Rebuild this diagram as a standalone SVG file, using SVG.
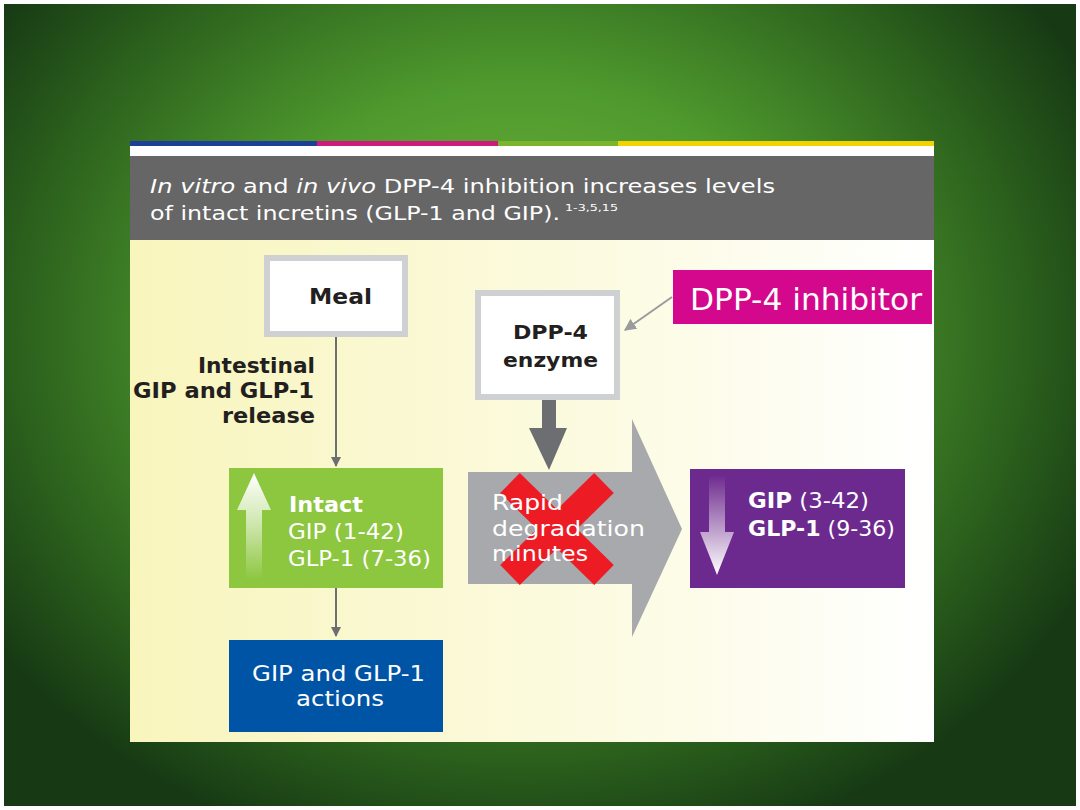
<svg xmlns="http://www.w3.org/2000/svg" width="1080" height="810" viewBox="0 0 1080 810">
<defs>
  <radialGradient id="bg" cx="520" cy="330" r="640" gradientUnits="userSpaceOnUse" gradientTransform="translate(520 330) scale(1 0.85) translate(-520 -330)">
    <stop offset="0" stop-color="#78b43c"/>
    <stop offset="0.45" stop-color="#4f9a2e"/>
    <stop offset="0.8" stop-color="#2a5e1c"/>
    <stop offset="1" stop-color="#173a14"/>
  </radialGradient>
  <linearGradient id="panel" x1="0" y1="0" x2="1" y2="0">
    <stop offset="0" stop-color="#f8f5bd"/>
    <stop offset="0.6" stop-color="#fcfbe2"/>
    <stop offset="1" stop-color="#ffffff"/>
  </linearGradient>
  <linearGradient id="upArrow" x1="0" y1="0" x2="0" y2="1">
    <stop offset="0" stop-color="#ffffff" stop-opacity="1"/>
    <stop offset="0.5" stop-color="#ffffff" stop-opacity="0.55"/>
    <stop offset="1" stop-color="#ffffff" stop-opacity="0"/>
  </linearGradient>
  <linearGradient id="downArrow" x1="0" y1="0" x2="0" y2="1">
    <stop offset="0" stop-color="#ffffff" stop-opacity="0"/>
    <stop offset="0.5" stop-color="#ffffff" stop-opacity="0.5"/>
    <stop offset="1" stop-color="#ffffff" stop-opacity="1"/>
  </linearGradient>
  <marker id="ah" viewBox="0 0 10 10" refX="9" refY="5" markerWidth="5" markerHeight="5" orient="auto" markerUnits="strokeWidth">
    <path d="M0,0 L10,5 L0,10 z" fill="#6d6e71"/>
  </marker>
  <marker id="ahl" viewBox="0 0 10 10" refX="9" refY="5" markerWidth="6" markerHeight="6" orient="auto" markerUnits="strokeWidth">
    <path d="M0,0 L10,5 L0,10 z" fill="#9a9b9e"/>
  </marker>
  <style>
    .t { font-family: "DejaVu Sans", "Liberation Sans", Arial, sans-serif; }
    .w { fill: #ffffff; }
    .k { fill: #231f20; }
    .b { font-weight: bold; }
    .conn { stroke: #6d6e71; stroke-width: 2; fill: none; }
    .box { fill: #ffffff; stroke: #cfd0d2; stroke-width: 6; }
  </style>
</defs>

<rect x="0" y="0" width="1080" height="810" fill="#ffffff"/>
<rect x="4" y="4" width="1072" height="802" fill="url(#bg)"/>

<!-- panel -->
<g id="panel">
  <rect x="130" y="141" width="804" height="601" fill="url(#panel)"/>
  <rect x="130" y="141" width="187" height="5" fill="#1d3f9a"/>
  <rect x="317" y="141" width="181" height="5" fill="#cc1a7f"/>
  <rect x="498" y="141" width="120" height="5" fill="#7ab52c"/>
  <rect x="618" y="141" width="316" height="5" fill="#f2d300"/>
  <rect x="130" y="146" width="804" height="10" fill="#ffffff"/>
  <rect x="130" y="156" width="804" height="84" fill="#666666"/>
  <text class="t w" x="150" y="193" font-size="20" textLength="625" lengthAdjust="spacingAndGlyphs"><tspan font-style="italic">In vitro</tspan> and <tspan font-style="italic">in vivo</tspan> DPP-4 inhibition increases levels</text>
  <text class="t w" x="150" y="220" font-size="20" textLength="410" lengthAdjust="spacingAndGlyphs">of intact incretins (GLP-1 and GIP).</text>
  <text class="t w" x="565" y="211" font-size="9.5" textLength="53" lengthAdjust="spacingAndGlyphs">1-3,5,15</text>
</g>

<!-- connectors -->
<g id="connectors">
  <line class="conn" x1="336" y1="336" x2="336" y2="466" marker-end="url(#ah)"/>
  <line class="conn" x1="336" y1="588" x2="336" y2="636" marker-end="url(#ah)"/>
  <line x1="672" y1="297" x2="625" y2="330" stroke="#9a9b9e" stroke-width="2" marker-end="url(#ahl)"/>
  <path d="M542,400 H556 V428 H567 L549,470 L529,428 H542 Z" fill="#6d6e71"/>
</g>

<g id="meal">
  <rect class="box" x="267" y="258" width="138" height="76"/>
  <text class="t k b" x="309" y="304" font-size="21" textLength="63" lengthAdjust="spacingAndGlyphs">Meal</text>
</g>

<g id="release-label">
  <text class="t k b" x="198" y="373" font-size="21" textLength="117" lengthAdjust="spacingAndGlyphs">Intestinal</text>
  <text class="t k b" x="133" y="398" font-size="21" textLength="181" lengthAdjust="spacingAndGlyphs">GIP and GLP-1</text>
  <text class="t k b" x="222" y="423" font-size="21" textLength="93" lengthAdjust="spacingAndGlyphs">release</text>
</g>

<g id="intact">
  <rect x="229" y="468" width="214" height="120" fill="#8dc63f"/>
  <path d="M246,580 V510 H237 L254,473 L271,510 H262 V580 Z" fill="url(#upArrow)"/>
  <text class="t w b" x="289" y="512" font-size="21" textLength="74" lengthAdjust="spacingAndGlyphs">Intact</text>
  <text class="t w" x="288" y="539" font-size="21" textLength="116" lengthAdjust="spacingAndGlyphs">GIP (1-42)</text>
  <text class="t w" x="288" y="566" font-size="21" textLength="143" lengthAdjust="spacingAndGlyphs">GLP-1 (7-36)</text>
</g>

<g id="actions">
  <rect x="229" y="640" width="214" height="92" fill="#0054a6"/>
  <text class="t w" x="252" y="681" font-size="21" textLength="173" lengthAdjust="spacingAndGlyphs">GIP and GLP-1</text>
  <text class="t w" x="296" y="706" font-size="21" textLength="88" lengthAdjust="spacingAndGlyphs">actions</text>
</g>

<g id="dpp4-enzyme">
  <rect class="box" x="478" y="293" width="139" height="104"/>
  <text class="t k b" x="513" y="339" font-size="20" textLength="75" lengthAdjust="spacingAndGlyphs">DPP-4</text>
  <text class="t k b" x="503" y="367" font-size="20" textLength="95" lengthAdjust="spacingAndGlyphs">enzyme</text>
</g>

<g id="dpp4-inhibitor">
  <rect x="673" y="270" width="259" height="54" fill="#d4088c"/>
  <text class="t w" x="690" y="310" font-size="30" textLength="232" lengthAdjust="spacingAndGlyphs">DPP-4 inhibitor</text>
</g>

<g id="degradation">
  <path d="M468,472 H632 V419 L682,529 L632,637 V584 H468 Z" fill="#a7a9ac"/>
  <line x1="510" y1="483" x2="604" y2="575" stroke="#ed1c24" stroke-width="28"/>
  <line x1="604" y1="483" x2="510" y2="575" stroke="#ed1c24" stroke-width="28"/>
  <text class="t w" x="492" y="510" font-size="21" textLength="71" lengthAdjust="spacingAndGlyphs">Rapid</text>
  <text class="t w" x="492" y="536" font-size="21" textLength="153" lengthAdjust="spacingAndGlyphs">degradation</text>
  <text class="t w" x="492" y="561" font-size="21" textLength="96" lengthAdjust="spacingAndGlyphs">minutes</text>
</g>

<g id="degraded">
  <rect x="690" y="469" width="215" height="119" fill="#6d2a8e"/>
  <path d="M709,475 V532 H700 L717,575 L734,532 H725 V475 Z" fill="url(#downArrow)"/>
  <text class="t w" x="748" y="508" font-size="21" textLength="121" lengthAdjust="spacingAndGlyphs"><tspan font-weight="bold">GIP</tspan> (3-42)</text>
  <text class="t w" x="748" y="536" font-size="21" textLength="147" lengthAdjust="spacingAndGlyphs"><tspan font-weight="bold">GLP-1</tspan> (9-36)</text>
</g>
</svg>
